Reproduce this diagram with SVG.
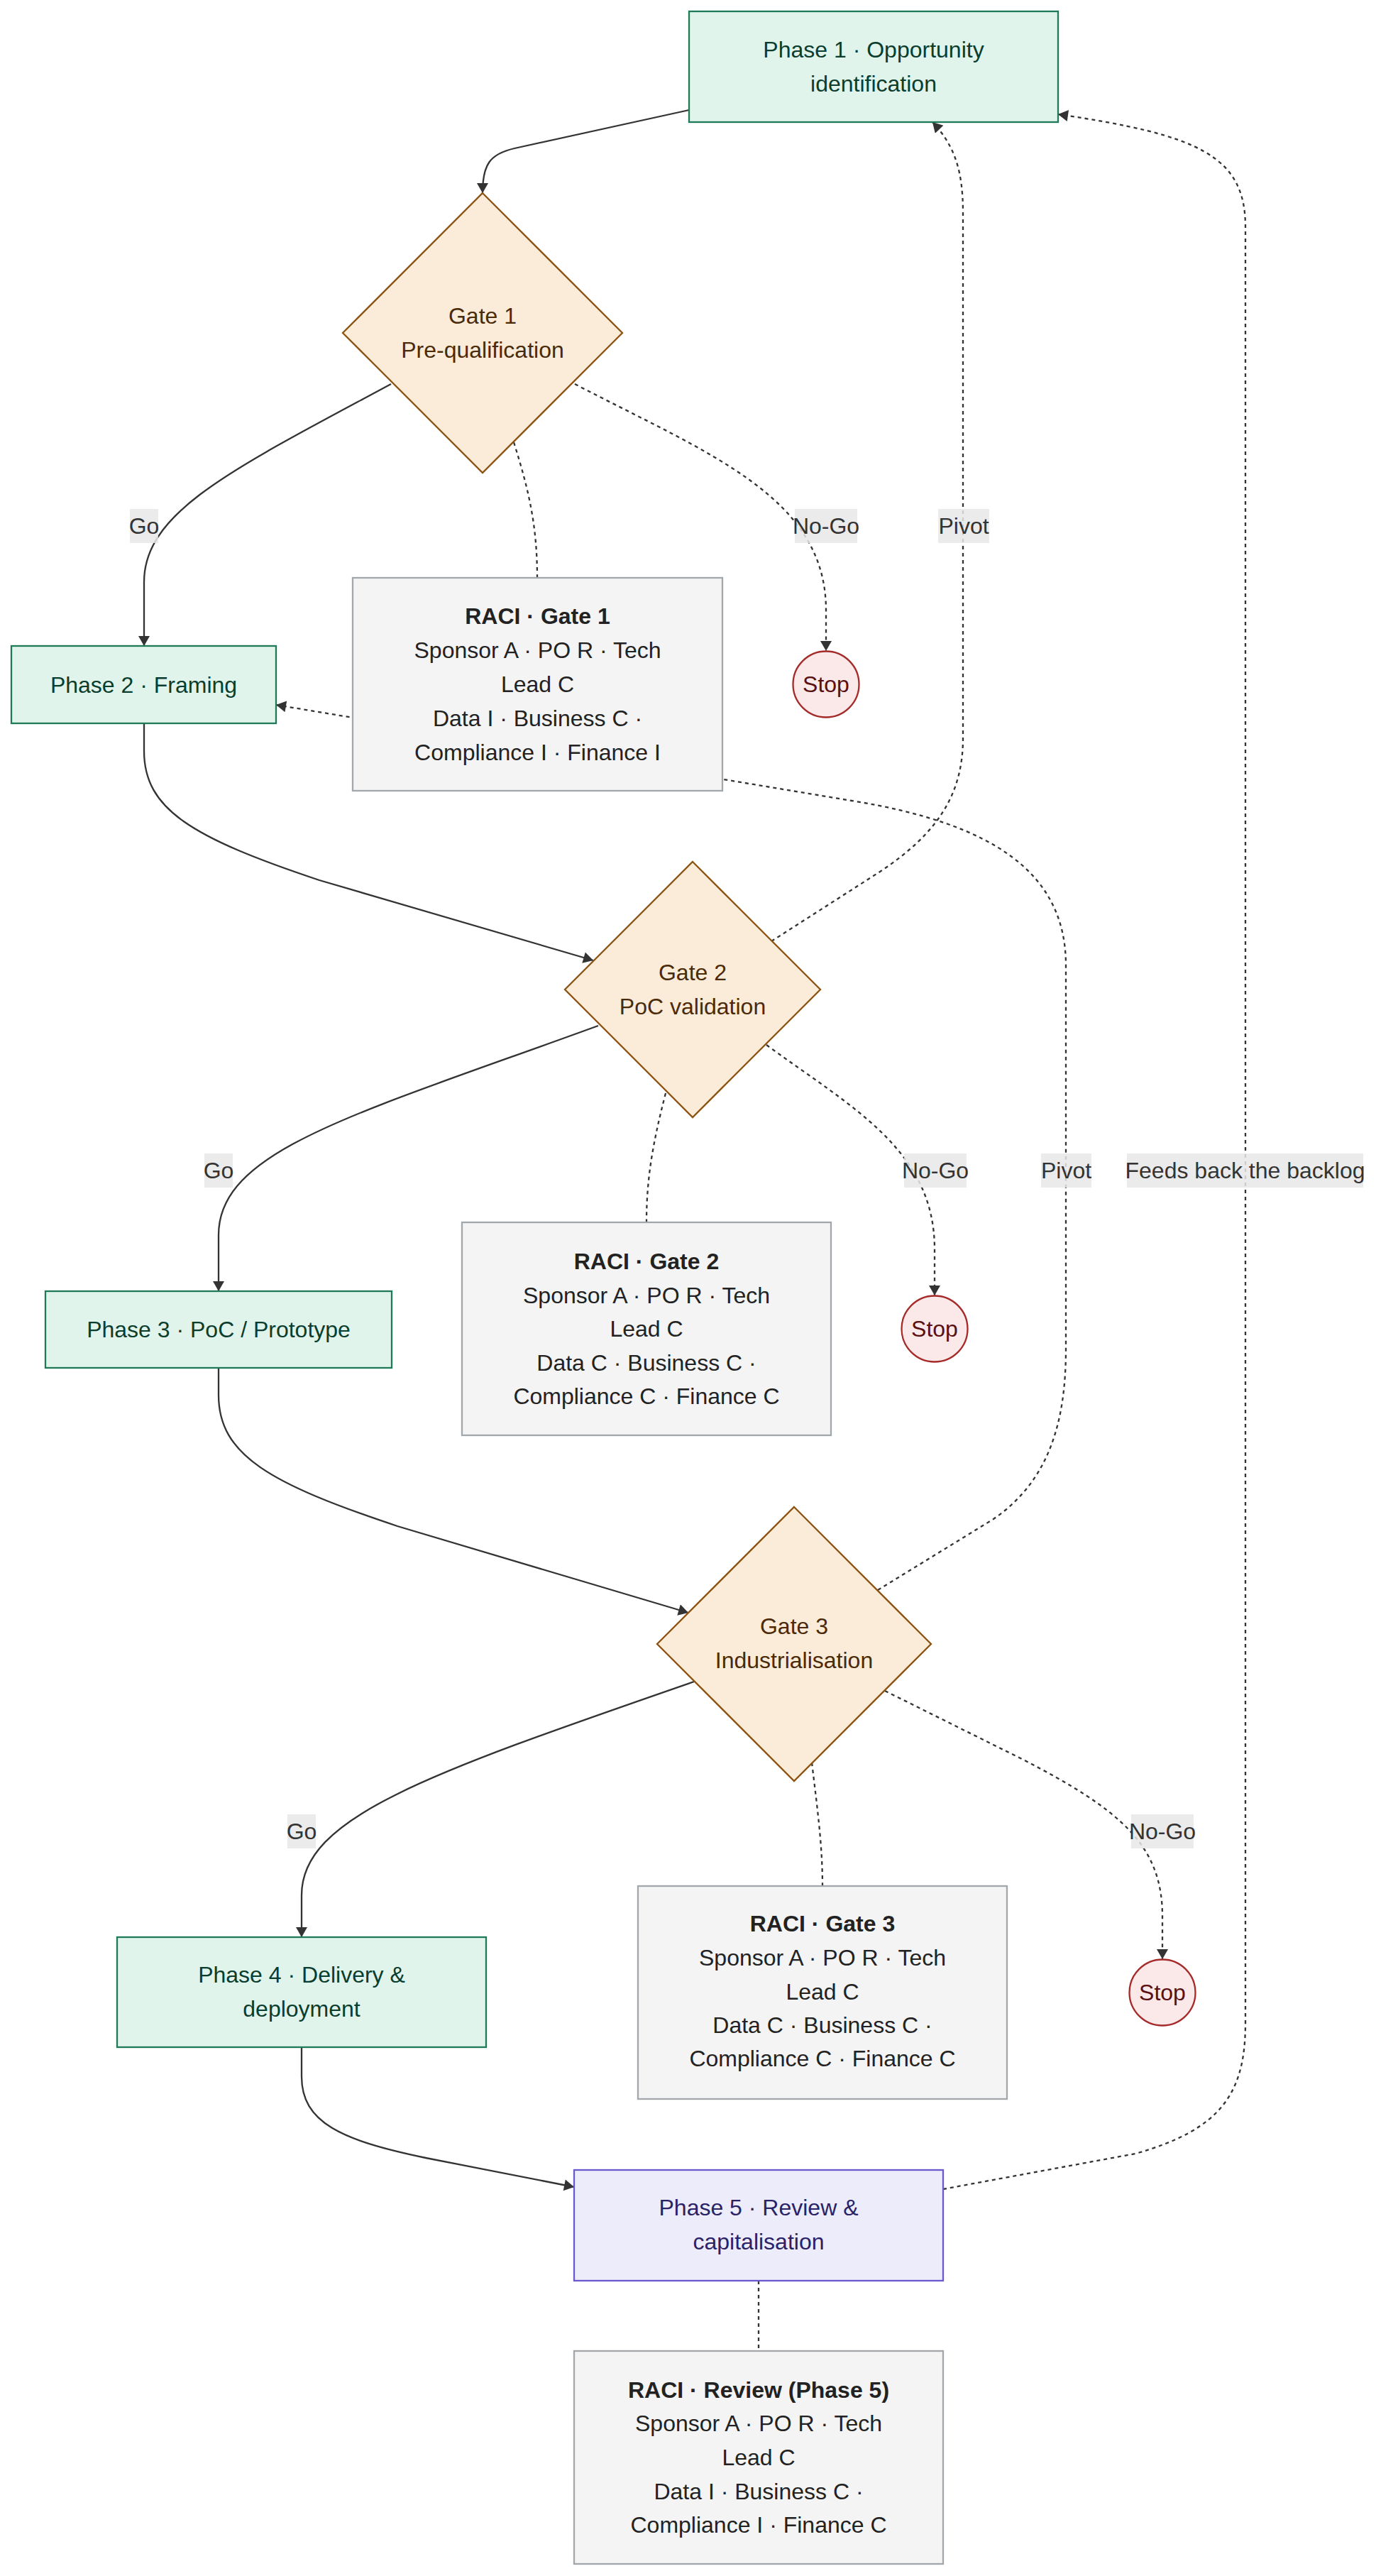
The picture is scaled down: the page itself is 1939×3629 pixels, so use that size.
<svg xmlns="http://www.w3.org/2000/svg" width="1939" height="3629" viewBox="0 0 1939 3629">
<defs>
<marker id="arrow" markerUnits="userSpaceOnUse" markerWidth="16" markerHeight="16" viewBox="0 0 14 16" refX="14" refY="8" orient="auto">
<path d="M0,0 L14,8 L0,16 z" fill="#333333"/>
</marker>
<style>
text{font-family:"Liberation Sans",Arial,sans-serif;font-size:32px;text-anchor:middle;dominant-baseline:central}
.edge{fill:none;stroke:#333333;stroke-width:2.3}
.dot{stroke-dasharray:5 5}
.lbg{fill:#e8e8e8;opacity:0.85}
.ltx{fill:#333333}
.phase rect{fill:#e1f4ec;stroke:#1f7a58;stroke-width:2.3}
.phase text{fill:#0b3d2e}
.gate polygon{fill:#faecd8;stroke:#8b5414;stroke-width:2.3}
.gate text{fill:#4a2a08}
.raci rect{fill:#f4f4f4;stroke:#a3a6aa;stroke-width:2.3}
.raci text{fill:#222222}
.raci .t{font-weight:bold}
.stop circle{fill:#fbe9e9;stroke:#a52a2a;stroke-width:2.3}
.stop text{fill:#5a1010}
.review rect{fill:#ececfb;stroke:#6a5acd;stroke-width:2.3}
.review text{fill:#2a2266}
</style>
</defs>
<rect width="1939" height="3629" fill="#ffffff"/>
<g id="connectors">
<path class="edge" d="M971,155 L725,209 C690,217 680,232 680,272" marker-end="url(#arrow)"/>
<path class="edge" d="M551,541 C330,660 203,720 203,820 L203,910" marker-end="url(#arrow)"/>
<path class="edge dot" d="M810,541 C1000,640 1164,700 1164,860 L1164,917" marker-end="url(#arrow)"/>
<path class="edge dot" d="M724,623 C745,690 757,740 757,814"/>
<path class="edge dot" d="M1237,2240 L1400,2140 C1480,2085 1502,2000 1502,1900 L1502,1360 C1502,1230 1400,1160 1200,1128 L389,993" marker-end="url(#arrow)"/>
<path class="edge" d="M203,1019 L203,1058 C203,1140 270,1180 450,1240 L836,1353" marker-end="url(#arrow)"/>
<path class="edge dot" d="M1087,1326 L1240,1228 C1320,1175 1357,1120 1357,1040 L1357,300 C1357,240 1345,205 1314,172" marker-end="url(#arrow)"/>
<path class="edge" d="M843,1445 C500,1570 308,1620 308,1740 L308,1819" marker-end="url(#arrow)"/>
<path class="edge dot" d="M1080,1472 C1200,1560 1317,1620 1317,1760 L1317,1825" marker-end="url(#arrow)"/>
<path class="edge dot" d="M938,1540 C920,1610 911,1660 911,1722"/>
<path class="edge" d="M308,1927 L308,1965 C308,2050 380,2090 560,2150 L970,2272" marker-end="url(#arrow)"/>
<path class="edge" d="M978,2369 C600,2500 425,2560 425,2670 L425,2729" marker-end="url(#arrow)"/>
<path class="edge dot" d="M1247,2382 L1440,2478 C1580,2550 1638,2600 1638,2700 L1638,2760" marker-end="url(#arrow)"/>
<path class="edge dot" d="M1144,2483 C1152,2550 1159,2600 1159,2657"/>
<path class="edge" d="M425,2884 L425,2925 C425,2990 480,3015 600,3040 L809,3081" marker-end="url(#arrow)"/>
<path class="edge dot" d="M1329,3084 L1600,3034 C1720,3000 1755,2950 1755,2850 L1755,320 C1755,220 1690,190 1491,161" marker-end="url(#arrow)"/>
<path class="edge dot" d="M1069,3213 L1069,3312"/>
</g>
<g id="edge-labels">
<rect class="lbg" x="183" y="717" width="40" height="48"/><text class="ltx" x="203" y="741">Go</text>
<rect class="lbg" x="1120" y="717" width="88" height="48"/><text class="ltx" x="1164" y="741">No-Go</text>
<rect class="lbg" x="1322" y="717" width="72" height="48"/><text class="ltx" x="1358" y="741">Pivot</text>
<rect class="lbg" x="288" y="1625" width="40" height="48"/><text class="ltx" x="308" y="1649">Go</text>
<rect class="lbg" x="1274" y="1625" width="88" height="48"/><text class="ltx" x="1318" y="1649">No-Go</text>
<rect class="lbg" x="1467" y="1625" width="71" height="48"/><text class="ltx" x="1502.5" y="1649">Pivot</text>
<rect class="lbg" x="1588" y="1625" width="333" height="48"/><text class="ltx" x="1754.5" y="1649">Feeds back the backlog</text>
<rect class="lbg" x="405" y="2556" width="40" height="48"/><text class="ltx" x="425" y="2580">Go</text>
<rect class="lbg" x="1594" y="2556" width="88" height="48"/><text class="ltx" x="1638" y="2580">No-Go</text>
</g>
<g id="phase1" class="phase"><rect x="971" y="16" width="520" height="156"/><text x="1231" y="70">Phase 1 · Opportunity</text><text x="1231" y="118">identification</text></g>
<g id="gate1" class="gate"><polygon points="680,272 877,469 680,666 483,469"/><text x="680" y="445">Gate 1</text><text x="680" y="493">Pre-qualification</text></g>
<g id="phase2" class="phase"><rect x="16" y="910" width="373" height="109"/><text x="202.5" y="965">Phase 2 · Framing</text></g>
<g id="raci1" class="raci"><rect x="497" y="814" width="521" height="300"/><text class="t" x="757.5" y="868">RACI · Gate 1</text><text x="757.5" y="916">Sponsor A · PO R · Tech</text><text x="757.5" y="964">Lead C</text><text x="757.5" y="1012">Data I · Business C ·</text><text x="757.5" y="1060">Compliance I · Finance I</text></g>
<g id="stop1" class="stop"><circle cx="1164" cy="964" r="46.5"/><text x="1164" y="964">Stop</text></g>
<g id="gate2" class="gate"><polygon points="976,1214 1156,1394 976,1574 796,1394"/><text x="976" y="1370">Gate 2</text><text x="976" y="1418">PoC validation</text></g>
<g id="phase3" class="phase"><rect x="64" y="1819" width="488" height="108"/><text x="308" y="1873">Phase 3 · PoC / Prototype</text></g>
<g id="raci2" class="raci"><rect x="651" y="1722" width="520" height="300"/><text class="t" x="911" y="1777">RACI · Gate 2</text><text x="911" y="1825">Sponsor A · PO R · Tech</text><text x="911" y="1872">Lead C</text><text x="911" y="1920">Data C · Business C ·</text><text x="911" y="1967">Compliance C · Finance C</text></g>
<g id="stop2" class="stop"><circle cx="1317" cy="1872" r="46.5"/><text x="1317" y="1872">Stop</text></g>
<g id="gate3" class="gate"><polygon points="1119,2123 1312,2316 1119,2509 926,2316"/><text x="1119" y="2291">Gate 3</text><text x="1119" y="2339">Industrialisation</text></g>
<g id="phase4" class="phase"><rect x="165" y="2729" width="520" height="155"/><text x="425" y="2782">Phase 4 · Delivery &amp;</text><text x="425" y="2830">deployment</text></g>
<g id="raci3" class="raci"><rect x="899" y="2657" width="520" height="300"/><text class="t" x="1159" y="2710">RACI · Gate 3</text><text x="1159" y="2758">Sponsor A · PO R · Tech</text><text x="1159" y="2806">Lead C</text><text x="1159" y="2853">Data C · Business C ·</text><text x="1159" y="2900">Compliance C · Finance C</text></g>
<g id="stop3" class="stop"><circle cx="1638" cy="2807" r="46.5"/><text x="1638" y="2807">Stop</text></g>
<g id="phase5" class="review"><rect x="809" y="3057" width="520" height="156"/><text x="1069" y="3110">Phase 5 · Review &amp;</text><text x="1069" y="3158">capitalisation</text></g>
<g id="raci5" class="raci"><rect x="809" y="3312" width="520" height="300"/><text class="t" x="1069" y="3367">RACI · Review (Phase 5)</text><text x="1069" y="3414">Sponsor A · PO R · Tech</text><text x="1069" y="3462">Lead C</text><text x="1069" y="3510">Data I · Business C ·</text><text x="1069" y="3557">Compliance I · Finance C</text></g>
</svg>
